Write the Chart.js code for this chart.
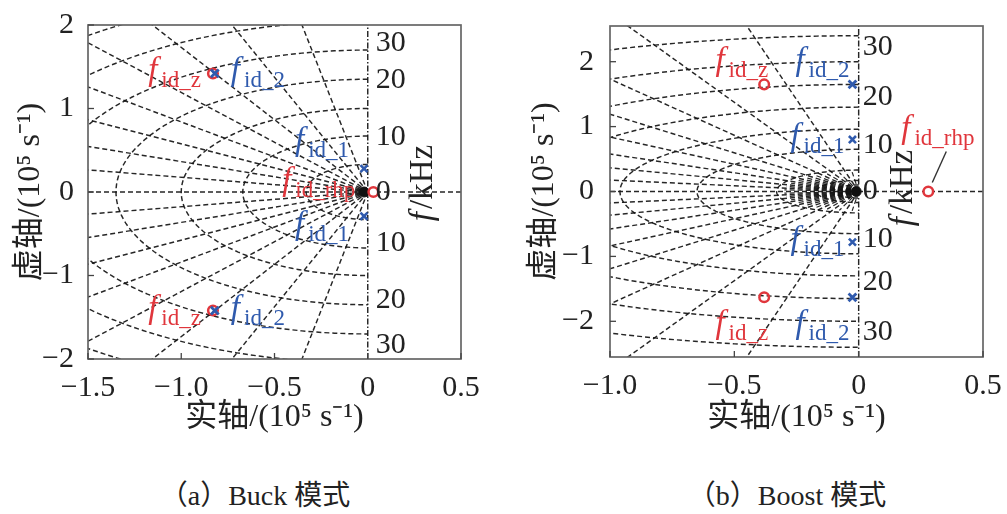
<!DOCTYPE html>
<html><head><meta charset="utf-8">
<script src="https://cdn.jsdelivr.net/npm/chart.js@4.4.1/dist/chart.umd.min.js"></script>
<style>
html,body{margin:0;padding:0;background:#fff;width:1007px;height:514px;overflow:hidden;}
#wrapA{position:absolute;left:0;top:0;width:500px;height:460px;}
#wrapB{position:absolute;left:500px;top:0;width:507px;height:460px;}
.cap{position:absolute;top:473px;font-family:'Liberation Serif','Noto Sans CJK SC',serif;font-size:28px;color:#222;white-space:nowrap;transform:translateX(-50%);}
</style></head><body>
<div id="wrapA"><canvas id="cA" width="500" height="460"></canvas></div>
<div id="wrapB"><canvas id="cB" width="507" height="460"></canvas></div>
<div class="cap" style="left:255px">（a）Buck 模式</div>
<div class="cap" style="left:787px">（b）Boost 模式</div>
<script>
// ---------- Panel (a) Buck ----------
const A_X_TICKS = [-1.5, -1.0, -0.5, 0, 0.5];
const A_X_LABELS = ['−1.5', '−1.0', '−0.5', '0', '0.5'];
const A_Y_TICKS = [-2, -1, 0, 1, 2];
const A_Y_LABELS = ['−2', '−1', '0', '1', '2'];
const A_ZEROS_Z = [{x: -0.83, y: 1.42}, {x: -0.83, y: -1.42}];   // f_id_z (red o)
const A_POLES_2 = [{x: -0.82, y: 1.42}, {x: -0.82, y: -1.42}];   // f_id_2 (blue x)
const A_POLES_1 = [{x: -0.02, y: 0.28}, {x: -0.02, y: -0.29}];   // f_id_1 (blue x)
const A_ZERO_RHP = [{x: 0.03, y: 0}];                              // f_id_rhp (red o)
const A_ORIGIN = [{x: -0.02, y: 0}];
const A_F_POS = [1.78, 1.34, 0.66, 0, -0.61, -1.29, -1.83];
const A_WN_RADII = [0.33, 0.67, 1.0, 1.35, 1.7, 2.05, 2.4];

// ---------- Panel (b) Boost ----------
const B_X_TICKS = [-1.0, -0.5, 0, 0.5];
const B_X_LABELS = ['−1.0', '−0.5', '0', '0.5'];
const B_Y_TICKS = [-2, -1, 0, 1, 2];
const B_Y_LABELS = ['−2', '−1', '0', '1', '2'];
const B_ZEROS_Z = [{x: -0.38, y: 1.65}, {x: -0.38, y: -1.63}];
const B_POLES_2 = [{x: -0.025, y: 1.65}, {x: -0.025, y: -1.63}];
const B_POLES_1 = [{x: -0.025, y: 0.8}, {x: -0.025, y: -0.78}];
const B_ZERO_RHP = [{x: 0.28, y: 0}];
const B_ORIGIN = [{x: -0.01, y: 0}];
const B_F_POS = [2.23, 1.46, 0.72, 0, -0.74, -1.40, -2.17];
const B_WN_RADII = [0.05, 0.1, 0.17, 0.33, 0.65, 0.96, 1.3, 1.65, 2.0, 2.4, 2.8];
const B_SHORT_RAYS = [5, 15, 25, 35, 45, 55, 65, 75, 85];

// shared
const F_LABELS = ['30', '20', '10', '0', '10', '20', '30'];
const DAMP_ANGLES = [10, 20, 30, 40, 50, 60, 70, 80];

const RED = '#e0363c', BLUE = '#2f5aad', GRID = 'rgba(20,20,20,0.92)', TXT = '#222';
const SERIF = '"Liberation Serif", "Noto Sans CJK SC", serif';
Chart.defaults.font.family = SERIF;
Chart.defaults.color = TXT;

function gridSets(radii, shortRays, shortLen, xr, yr) {
  const st = {showLine: true, pointRadius: 0, borderColor: GRID, borderWidth: 1.45, borderDash: [5, 3], fill: false};
  const sets = [];
  sets.push({...st, data: [{x: xr[0], y: 0}, {x: xr[1], y: 0}]});
  sets.push({...st, borderDash: [6, 2, 1.5, 2], data: [{x: 0, y: yr[0]}, {x: 0, y: yr[1]}]});
  const R = 6;
  DAMP_ANGLES.forEach(a => {
    const t = a * Math.PI / 180;
    [1, -1].forEach(s => sets.push({...st, data: [{x: 0, y: 0}, {x: -R * Math.cos(t), y: s * R * Math.sin(t)}]}));
  });
  shortRays.forEach(a => {
    const t = a * Math.PI / 180;
    [1, -1].forEach(s => sets.push({...st, borderWidth: 1.2, data: [{x: 0, y: 0}, {x: -shortLen * Math.cos(t), y: s * shortLen * Math.sin(t)}]}));
  });
  radii.forEach(r => {
    const pts = [];
    for (let d = 90; d <= 270; d += 2) {
      const t = d * Math.PI / 180;
      pts.push({x: r * Math.cos(t), y: r * Math.sin(t)});
    }
    sets.push({...st, data: pts});
  });
  return sets;
}

function markerSets(zz, p2, p1, rhp, org) {
  return [
    {data: p2, pointStyle: 'crossRot', pointRadius: 5.5, borderColor: BLUE, borderWidth: 2.8, showLine: false},
    {data: p1, pointStyle: 'crossRot', pointRadius: 5, borderColor: BLUE, borderWidth: 2.6, showLine: false},
    {data: zz, pointStyle: 'circle', pointRadius: 4.8, borderColor: RED, backgroundColor: 'rgba(255,255,255,0)', borderWidth: 2.5, showLine: false},
    {data: rhp, pointStyle: 'circle', pointRadius: 4.8, borderColor: RED, backgroundColor: '#fff', borderWidth: 2.5, showLine: false},
    {data: org, pointStyle: 'circle', pointRadius: 5, borderColor: '#111', backgroundColor: '#111', borderWidth: 1, showLine: false}
  ];
}

function drawPZLabel(ctx, px, py, L) {
  const fMain = 'italic 33px "Liberation Serif"';
  const fSub = '23px "Liberation Serif"';
  ctx.font = fMain; const wf = ctx.measureText('f').width + 4;
  ctx.font = fSub; const ws = ctx.measureText(L.sub).width;
  const tot = wf + ws;
  const x0 = L.align === 'right' ? px + L.dx - tot : px + L.dx;
  const base = py + L.dy;
  ctx.fillStyle = L.color; ctx.textAlign = 'left'; ctx.textBaseline = 'alphabetic';
  ctx.font = fMain; ctx.fillText('f', x0, base);
  ctx.font = fSub; ctx.fillText(L.sub, x0 + wf, base + 7);
}

function panelPlugin(cfg) {
  return {
    id: 'panel' + cfg.name,
    afterDatasetsDraw(chart) {
      const {ctx, chartArea: ca} = chart;
      const xs = chart.scales.x, ys = chart.scales.y;
      ctx.save();
      ctx.setLineDash([]);
      ctx.strokeStyle = '#666'; ctx.lineWidth = 1.7;
      ctx.strokeRect(ca.left, ca.top, ca.right - ca.left, ca.bottom - ca.top);
      ctx.strokeStyle = '#444'; ctx.lineWidth = 1.3;
      cfg.xTicks.forEach(v => { const p = xs.getPixelForValue(v); ctx.beginPath(); ctx.moveTo(p, ca.bottom); ctx.lineTo(p, ca.bottom - 6); ctx.stroke(); });
      cfg.yTicks.forEach(v => { const p = ys.getPixelForValue(v); ctx.beginPath(); ctx.moveTo(ca.left, p); ctx.lineTo(ca.left + 6, p); ctx.stroke(); });
      // frequency labels next to imaginary axis
      ctx.fillStyle = TXT; ctx.font = '30px "Liberation Serif"'; ctx.textAlign = 'left'; ctx.textBaseline = 'middle';
      const fx = xs.getPixelForValue(0) + cfg.fDx;
      F_LABELS.forEach((t, i) => ctx.fillText(t, fx, ys.getPixelForValue(cfg.fPos[i])));
      // leader line
      if (cfg.leader) {
        const p = cfg.leader.pt;
        const px = xs.getPixelForValue(p.x), py = ys.getPixelForValue(p.y);
        ctx.strokeStyle = '#333'; ctx.lineWidth = 1.4;
        ctx.beginPath(); ctx.moveTo(px + 4, py - 9); ctx.lineTo(px + 18, py - 40); ctx.stroke();
      }
      // pole/zero labels
      cfg.labels.forEach(L => {
        drawPZLabel(ctx, xs.getPixelForValue(L.pt.x), ys.getPixelForValue(L.pt.y), L);
      });
      // f/kHz rotated title
      ctx.translate(cfg.kx, cfg.ky); ctx.rotate(-Math.PI / 2);
      ctx.fillStyle = TXT; ctx.textBaseline = 'middle'; ctx.textAlign = 'left';
      ctx.font = 'italic 33px "Liberation Serif"'; const wf = ctx.measureText('f').width + 3;
      ctx.font = '33px "Liberation Serif"'; const wr = ctx.measureText('/kHz').width;
      const tot = wf + wr;
      ctx.font = 'italic 33px "Liberation Serif"'; ctx.fillText('f', -tot / 2, 0);
      ctx.font = '33px "Liberation Serif"'; ctx.fillText('/kHz', -tot / 2 + wf, 0);
      ctx.restore();
    }
  };
}

function makeChart(id, c) {
  return new Chart(document.getElementById(id), {
    type: 'scatter',
    data: {datasets: markerSets(c.zz, c.p2, c.p1, c.rhp, c.org).concat(gridSets(c.radii, c.shortRays, c.shortLen, c.xr, c.yr))},
    options: {
      responsive: false, animation: false, devicePixelRatio: 1,
      layout: {padding: {left: 0, right: c.padR, top: 25, bottom: 0}},
      plugins: {legend: {display: false}, tooltip: {enabled: false}},
      scales: {
        x: {
          type: 'linear', min: c.xr[0], max: c.xr[1],
          grid: {display: false}, border: {display: false},
          afterBuildTicks: s => { s.ticks = c.xTicks.map(v => ({value: v})); },
          afterFit: s => { s.height = c.xAxisH; },
          ticks: {autoSkip: false, maxRotation: 0, padding: 3, font: {size: 30}, color: TXT,
                  callback: (v, i) => c.xLabels[i]},
          title: {display: true, text: '实轴/(10⁵ s⁻¹)', font: {size: 32}, color: TXT, padding: {top: 0, bottom: 23}}
        },
        y: {
          type: 'linear', min: c.yr[0], max: c.yr[1],
          grid: {display: false}, border: {display: false},
          afterBuildTicks: s => { s.ticks = c.yTicks.map(v => ({value: v})); },
          afterFit: s => { s.width = c.yAxisW; },
          ticks: {autoSkip: false, padding: c.yPad, font: {size: 30}, color: TXT,
                  callback: (v, i) => c.yLabels[i]},
          title: {display: true, text: '虚轴/(10⁵ s⁻¹)', font: {size: 32}, color: TXT, padding: {top: c.yTitlePad, bottom: 0}}
        }
      }
    },
    plugins: [panelPlugin(c)]
  });
}

makeChart('cA', {
  name: 'A', xr: [-1.5, 0.5], yr: [-2, 2], padR: 39, xAxisH: 101, yAxisW: 88, yPad: 6, yTitlePad: 11,
  xTicks: A_X_TICKS, xLabels: A_X_LABELS, yTicks: A_Y_TICKS, yLabels: A_Y_LABELS,
  zz: A_ZEROS_Z, p2: A_POLES_2, p1: A_POLES_1, rhp: A_ZERO_RHP, org: A_ORIGIN,
  radii: A_WN_RADII, shortRays: [], shortLen: 0, fPos: A_F_POS, fDx: 8, kx: 423, ky: 183,
  labels: [
    {pt: A_ZEROS_Z[0], sub: 'id_z', color: RED, align: 'right', dx: -12, dy: 7},
    {pt: A_POLES_2[0], sub: 'id_2', color: BLUE, align: 'left', dx: 16, dy: 7},
    {pt: A_ZEROS_Z[1], sub: 'id_z', color: RED, align: 'right', dx: -12, dy: 7},
    {pt: A_POLES_2[1], sub: 'id_2', color: BLUE, align: 'left', dx: 16, dy: 7},
    {pt: A_POLES_1[0], sub: 'id_1', color: BLUE, align: 'right', dx: -15, dy: -19},
    {pt: A_POLES_1[1], sub: 'id_1', color: BLUE, align: 'right', dx: -15, dy: 18},
    {pt: A_ZERO_RHP[0], sub: 'id_rhp', color: RED, align: 'right', dx: -18, dy: -2}
  ]
});

makeChart('cB', {
  name: 'B', xr: [-1.0, 0.5], yr: [-2.55, 2.55], padR: 24, xAxisH: 103, yAxisW: 110, yPad: 8, yTitlePad: 25,
  xTicks: B_X_TICKS, xLabels: B_X_LABELS, yTicks: B_Y_TICKS, yLabels: B_Y_LABELS,
  zz: B_ZEROS_Z, p2: B_POLES_2, p1: B_POLES_1, rhp: B_ZERO_RHP, org: B_ORIGIN,
  radii: B_WN_RADII, shortRays: B_SHORT_RAYS, shortLen: 0.3, fPos: B_F_POS, fDx: 4, kx: 403, ky: 188,
  leader: {pt: B_ZERO_RHP[0]},
  labels: [
    {pt: B_ZEROS_Z[0], sub: 'id_z', color: RED, align: 'right', dx: 4, dy: -14},
    {pt: B_POLES_2[0], sub: 'id_2', color: BLUE, align: 'right', dx: -3, dy: -14},
    {pt: B_POLES_1[0], sub: 'id_1', color: BLUE, align: 'right', dx: -8, dy: 6},
    {pt: B_POLES_1[1], sub: 'id_1', color: BLUE, align: 'right', dx: -8, dy: 7},
    {pt: B_ZEROS_Z[1], sub: 'id_z', color: RED, align: 'right', dx: 4, dy: 36},
    {pt: B_POLES_2[1], sub: 'id_2', color: BLUE, align: 'right', dx: -3, dy: 36},
    {pt: B_ZERO_RHP[0], sub: 'id_rhp', color: RED, align: 'left', dx: -27, dy: -54}
  ]
});
</script></body></html>
